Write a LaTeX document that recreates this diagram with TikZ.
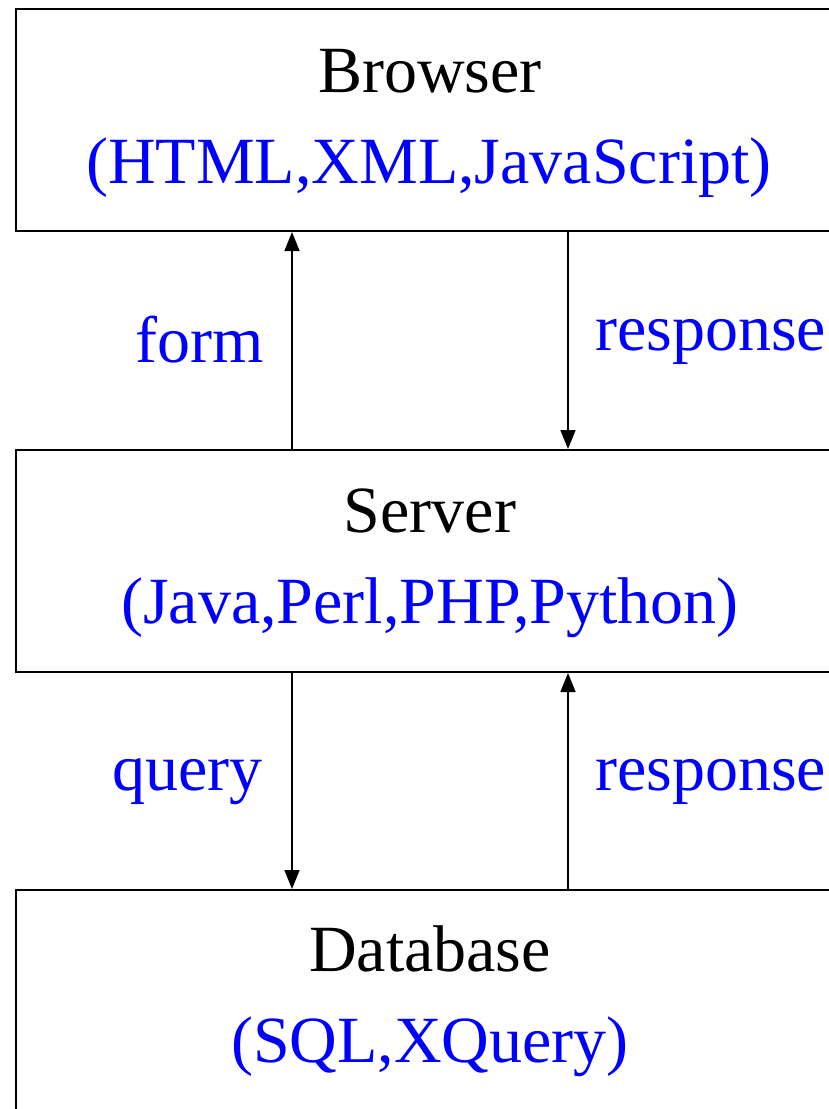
\documentclass[tikz,border=0pt]{standalone}
\usepackage{fontspec}
\setmainfont{Liberation Serif}
\usetikzlibrary{calc,arrows.meta}
\definecolor{lblblue}{RGB}{0,0,255}
\begin{document}
\begin{tikzpicture}[x=1pt,y=-1pt,
  box/.style={draw=black,line width=2pt,rectangle,minimum width=830pt,minimum height=222pt,inner sep=0pt,anchor=north west},
  title/.style={font=\fontsize{66}{78}\selectfont,text=black,anchor=base,inner sep=0pt},
  sub/.style={font=\fontsize{66}{78}\selectfont,text=lblblue,anchor=base,inner sep=0pt},
  lbl/.style={font=\fontsize{66}{78}\selectfont,text=lblblue,anchor=base,inner sep=0pt},
  arr/.style={line width=1.6pt,-{Triangle[length=19pt,width=15pt]}}]
\useasboundingbox (0,0) rectangle (829,1109);
\clip (0,0) rectangle (829,1109);
\node[box] (browser) at (15,8) {};
\node[box] (server) at (15,449) {};
\node[box] (database) at (15,889) {};
\node[title] (bt) at (430,92) {Browser};
\node[sub] (bs) at (429,183) {(HTML,XML,JavaScript)};
\node[title] (st) at (430,532) {Server};
\node[sub] (ss) at (430,623) {(Java,Perl,PHP,Python)};
\node[title] (dt) at (430,971) {Database};
\node[sub] (ds) at (430,1062) {(SQL,XQuery)};
\coordinate (c1) at ($(server.north west)+(277,0)$);
\coordinate (c2) at ($(browser.south west)+(277,0)$);
\coordinate (c3) at ($(browser.south west)+(553,0)$);
\coordinate (c4) at ($(server.north west)+(553,0)$);
\coordinate (c5) at ($(server.south west)+(277,0)$);
\coordinate (c6) at ($(database.north west)+(277,0)$);
\coordinate (c7) at ($(database.north west)+(553,0)$);
\coordinate (c8) at ($(server.south west)+(553,0)$);
\draw[arr] (c1) -- (c2);
\draw[arr] (c3) -- (c4);
\draw[arr] (c5) -- (c6);
\draw[arr] (c7) -- (c8);
\node[lbl,anchor=base east] (lf) at (264,362) {form};
\node[lbl,anchor=base west] (lr1) at (595,350) {response};
\node[lbl,anchor=base east] (lq) at (263,790) {query};
\node[lbl,anchor=base west] (lr2) at (595,790) {response};
\end{tikzpicture}
\end{document}
